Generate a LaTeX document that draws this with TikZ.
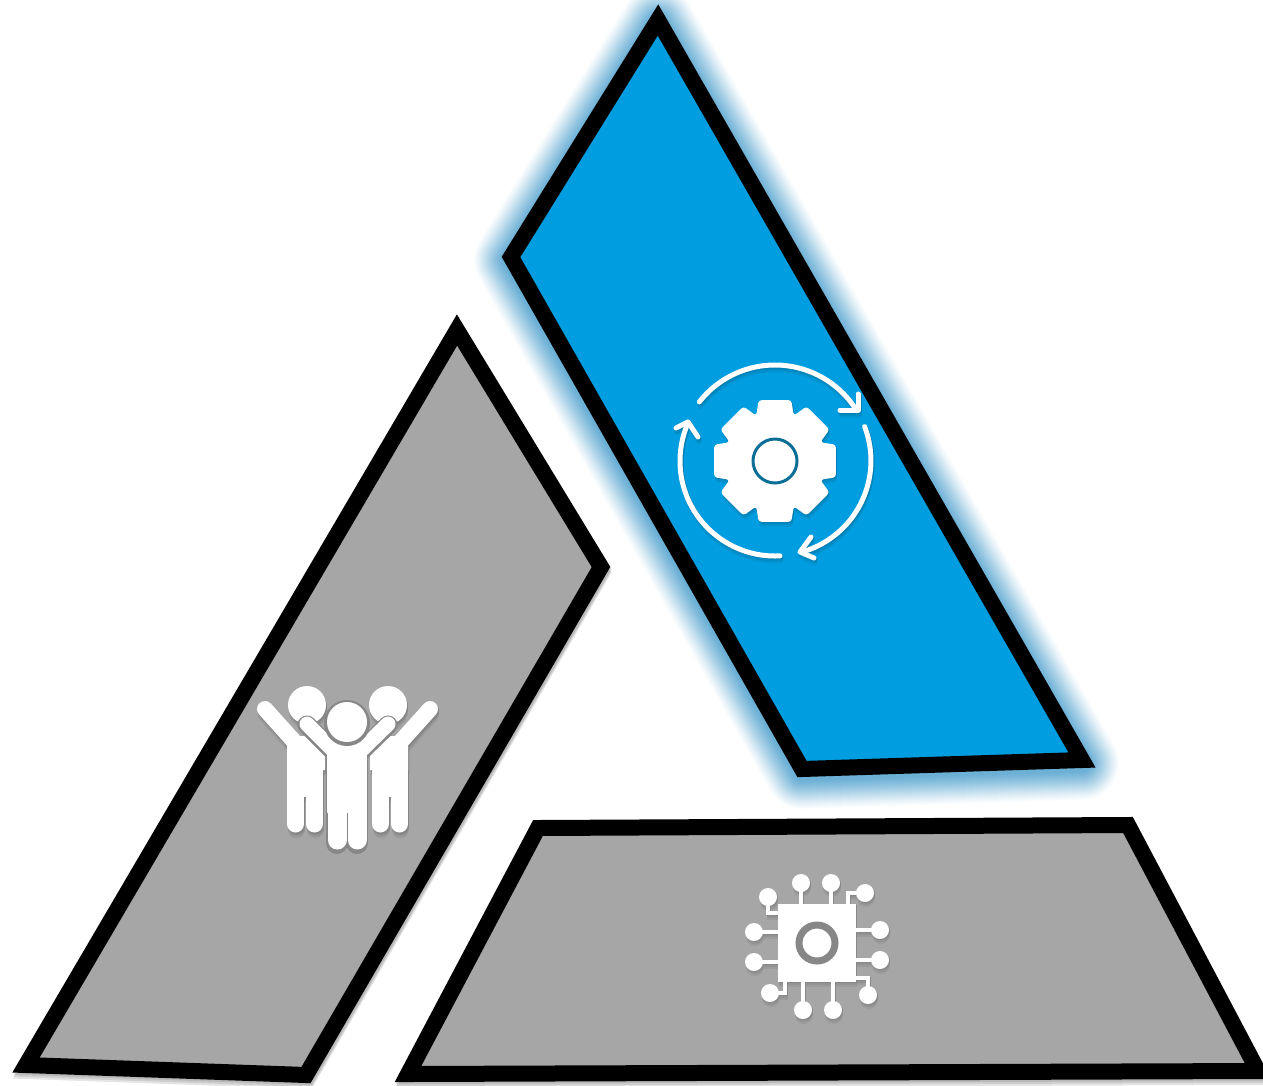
\documentclass[tikz,border=0pt]{standalone}

\definecolor{panelblue}{RGB}{0,158,224}
\definecolor{panelgray}{RGB}{166,166,166}
\definecolor{glowblue}{RGB}{60,150,200}
\definecolor{ringblue}{RGB}{10,110,150}
\definecolor{ringgray}{RGB}{135,135,135}
\definecolor{halogray}{RGB}{135,135,135}

\tikzset{
	panel/.style={draw=black,line width=16pt,line join=miter,miter limit=10},
	cyclearrow/.style={line width=5pt,line cap=round,line join=round},
}

% gear with its three arrows
\newcommand{\cycleicon}[1]{
	\begin{scope}[#1]
	\begin{scope}[shift={(775,461)}]
	\fill[rounded corners=3pt] (15:63pt) \foreach \a in {0,45,...,270} { -- (\a+22.5:49pt) -- (\a+30:63pt) -- (\a+60:63pt) }
		-- (337.5:49pt) -- (345:63pt) -- cycle;
	\draw[cyclearrow] (142:96pt) arc[start angle=142,end angle=31.6,radius=96pt];
	\draw[cyclearrow] (21:96pt) arc[start angle=21,end angle=-74.6,radius=95pt];
	\draw[cyclearrow] (-87:95pt) arc[start angle=-87,end angle=-204,radius=95pt];
	\end{scope}
	\draw[cyclearrow] (840,410) -- (858,410) -- (858,394);
	\draw[cyclearrow] (811,537) -- (800,552) -- (814,558);
	\draw[cyclearrow] (676,428) -- (688,422) -- (698,437);
	\end{scope}
}

% one figure of the group, arg is the x of its middle
\newcommand{\sidefigure}[1]{
	\draw[line width=17pt,line cap=round] (#1-9.5,755) -- (#1-9.5,824);
	\draw[line width=17pt,line cap=round] (#1+9.5,755) -- (#1+9.5,824);
	\fill (#1-18,746) rectangle (#1+18,797);
}

\newcommand{\peopleicon}[1]{
	\begin{scope}[#1]
	\fill (307,705) circle (19pt);
	\fill (388,705) circle (19pt);
	\sidefigure{305}
	\sidefigure{390}
	\fill (287,746) -- (298,736) -- (325,736) -- (325,770) -- (287,770) -- cycle;
	\fill (408,746) -- (397,736) -- (370,736) -- (370,770) -- (408,770) -- cycle;
	\draw[line width=16pt,line cap=round] (265,709) -- (300,748);
	\draw[line width=16pt,line cap=round] (430,709) -- (395,748);
	\end{scope}
}

\newcommand{\middlefigure}{
	\draw[line width=19pt,line cap=round] (337,760) -- (337,840);
	\draw[line width=19pt,line cap=round] (357,760) -- (357,840);
	\fill (327,758) rectangle (367,813);
	\fill (327,735) -- (367,735) -- (367,760) -- (327,760) -- cycle;
	\draw[line width=15pt,line cap=round,line join=miter] (307,724) -- (347,764) -- (388,724);
}

\newcommand{\chipicon}[1]{
	\begin{scope}[#1]
	\fill (778,904) rectangle (856,982);
	\foreach \x/\y in {801/883,831/883,865/893,768/897,754/932,754/962,880/930,880/960,770/993,803/1010,833/1010,868/995}
		\fill (\x,\y) circle (9pt);
	\begin{scope}[line width=4.5pt]
	\draw (801,883) -- (801,904);
	\draw (831,883) -- (831,904);
	\draw (865,893) -- (848,893) -- (848,904);
	\draw (768,897) -- (768,913) -- (778,913);
	\draw (754,932) -- (778,932);
	\draw (754,962) -- (778,962);
	\draw (880,930) -- (856,930);
	\draw (880,960) -- (856,960);
	\draw (770,993) -- (785,993) -- (785,982);
	\draw (803,1010) -- (803,982);
	\draw (833,1010) -- (833,982);
	\draw (868,995) -- (868,978) -- (856,978);
	\end{scope}
	\end{scope}
}

\begin{document}
\begin{tikzpicture}[x=1pt,y=-1pt]

	\clip (0,0) rectangle (1263,1085);

	\def\bluecoordinates{(658,20) (511,257) (802,769) (1082,760)}
	\def\leftcoordinates{(457,330) (601,567) (306,1075) (26,1065)}
	\def\basecoordinates{(538,828) (1128,825) (1258,1071) (408,1074)}

	% glow round the blue panel, fainter towards the outside
	\begin{scope}[yshift=-3pt]
	\foreach \w in {74,72,...,18} {
		\pgfmathsetmacro{\glowop}{.018+(74-\w)*.001}
		\draw[glowblue,opacity=\glowop,line width=\w pt,line join=round] plot coordinates {\bluecoordinates} -- cycle;
	}
	\end{scope}

	% soft shadows of the gray panels
	\foreach \s in {6,4,2} {
		\begin{scope}[shift={(1,\s)}]
		\draw[black,opacity=.1,line width=16pt,line join=miter] plot coordinates {\leftcoordinates} -- cycle;
		\draw[black,opacity=.1,line width=16pt,line join=miter] plot coordinates {\basecoordinates} -- cycle;
		\end{scope}
	}

	\draw[panel,fill=panelblue] plot coordinates {\bluecoordinates} -- cycle;
	\draw[panel,fill=panelgray] plot coordinates {\leftcoordinates} -- cycle;
	\draw[panel,fill=panelgray] plot coordinates {\basecoordinates} -- cycle;

	% gear
	\foreach \s/\c in {5/94,3/88,1/80} {
		\cycleicon{shift={(1,\s)},color=panelblue!\c!black,fill=panelblue!\c!black}
	}
	\cycleicon{color=white,fill=white}
	\draw[ringblue,line width=3pt,fill=white] (775,461) circle (22pt);

	% group of people
	\foreach \s/\c in {6/94,4/88,2/80} {
		\peopleicon{shift={(1,\s)},color=panelgray!\c!black,fill=panelgray!\c!black}
	}
	\peopleicon{color=white,fill=white}
	\begin{scope}[color=halogray,fill=halogray,shift={(0,1)}]
	\draw[line width=22pt,line cap=round] (337,760) -- (337,842);
	\draw[line width=22pt,line cap=round] (357,760) -- (357,842);
	\draw[line width=19pt,line cap=round,line join=miter] (307,724) -- (347,764) -- (388,724);
	\end{scope}
	\begin{scope}[color=white,fill=white]
	\middlefigure
	\end{scope}
	\fill[halogray] (347,723) circle (23pt);
	\fill[white] (347,722) circle (20pt);

	% chip
	\foreach \s/\c in {5/94,3/88,1/82} {
		\chipicon{shift={(1,\s)},color=panelgray!\c!black,fill=panelgray!\c!black}
	}
	\chipicon{color=white,fill=white}
	\draw[ringgray,line width=7pt,fill=white] (817,943) circle (18pt);

\end{tikzpicture}
\end{document}
